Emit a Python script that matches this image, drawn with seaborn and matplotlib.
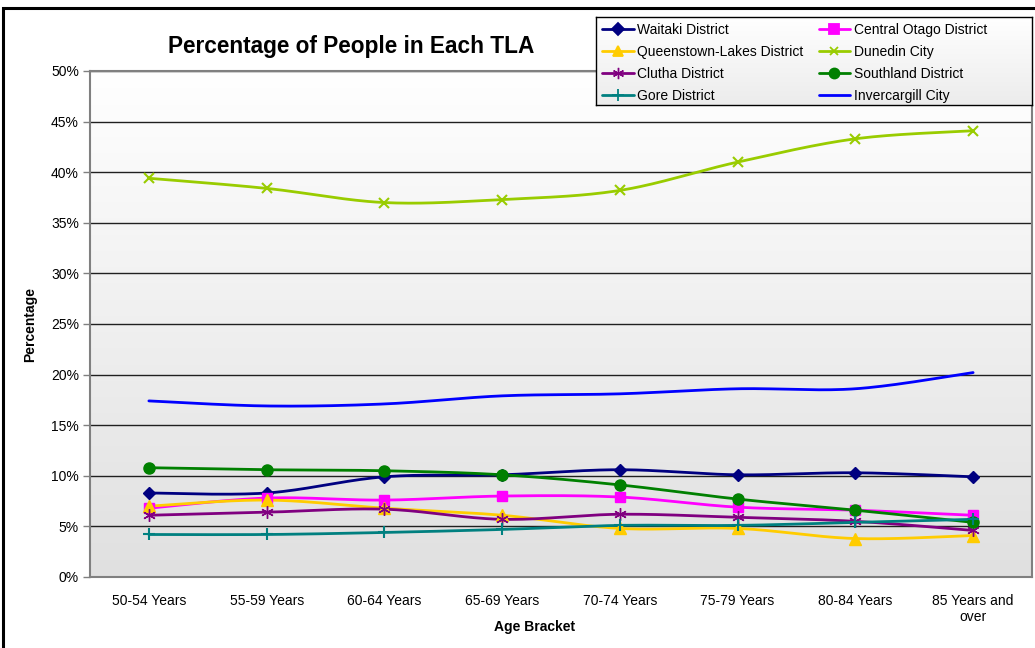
import numpy as np
import pandas as pd
import matplotlib
matplotlib.use("Agg")
import matplotlib.pyplot as plt
from matplotlib.lines import Line2D
from matplotlib.patches import Rectangle
import seaborn as sns

# ---- data -------------------------------------------------------------
age_brackets = ["50-54 Years", "55-59 Years", "60-64 Years", "65-69 Years",
                "70-74 Years", "75-79 Years", "80-84 Years", "85 Years and\nover"]

waitaki = [8.3, 8.3, 9.9, 10.1, 10.6, 10.1, 10.3, 9.9]
central_otago = [6.8, 7.8, 7.6, 8.0, 7.9, 6.9, 6.6, 6.1]
queenstown_lakes = [7.0, 7.6, 6.8, 6.1, 4.8, 4.8, 3.8, 4.1]
dunedin = [39.4, 38.4, 37.0, 37.3, 38.2, 41.0, 43.3, 44.1]
clutha = [6.1, 6.4, 6.7, 5.7, 6.2, 5.9, 5.5, 4.6]
southland = [10.8, 10.6, 10.5, 10.1, 9.1, 7.7, 6.6, 5.4]
gore = [4.2, 4.2, 4.4, 4.7, 5.1, 5.1, 5.4, 5.7]
invercargill = [17.4, 16.9, 17.1, 17.9, 18.1, 18.6, 18.6, 20.2]

series_names = ["Waitaki District", "Central Otago District", "Queenstown-Lakes District",
                "Dunedin City", "Clutha District", "Southland District",
                "Gore District", "Invercargill City"]
series_values = [waitaki, central_otago, queenstown_lakes, dunedin,
                 clutha, southland, gore, invercargill]

colors = {"Waitaki District": "#000080", "Central Otago District": "#FF00FF",
          "Queenstown-Lakes District": "#FFCC00", "Dunedin City": "#99CC00",
          "Clutha District": "#800080", "Southland District": "#008000",
          "Gore District": "#008080", "Invercargill City": "#0000FF"}
markers = {"Waitaki District": ("D", 6.5), "Central Otago District": ("s", 7.5),
           "Queenstown-Lakes District": ("^", 8), "Dunedin City": ("x", 7),
           "Clutha District": ((6, 2, 0), 9), "Southland District": ("o", 8),
           "Gore District": ("+", 9), "Invercargill City": (None, 0)}


def smooth(xs, ys, n=30):
    """Cubic Bezier smoothing through every point (Catmull-Rom style)."""
    xs = np.asarray(xs, float)
    ys = np.asarray(ys, float)
    px = np.concatenate([[xs[0]], xs, [xs[-1]]])
    py = np.concatenate([[ys[0]], ys, [ys[-1]]])
    out_x, out_y = [], []
    t = np.linspace(0, 1, n)
    for i in range(1, len(px) - 2):
        p0 = np.array([px[i], py[i]])
        p3 = np.array([px[i + 1], py[i + 1]])
        c1 = p0 + (np.array([px[i + 1], py[i + 1]]) - np.array([px[i - 1], py[i - 1]])) / 6
        c2 = p3 - (np.array([px[i + 2], py[i + 2]]) - np.array([px[i], py[i]])) / 6
        b = ((1 - t) ** 3)[:, None] * p0 + (3 * (1 - t) ** 2 * t)[:, None] * c1 \
            + (3 * (1 - t) * t ** 2)[:, None] * c2 + (t ** 3)[:, None] * p3
        out_x.extend(b[:, 0])
        out_y.extend(b[:, 1])
    return out_x, out_y


rows = []
for name, vals in zip(series_names, series_values):
    sx, sy = smooth(range(len(vals)), vals)
    for k, (a, b) in enumerate(zip(sx, sy)):
        rows.append({"series": name, "x": a, "y": b, "order": k})
curves = pd.DataFrame(rows)

# ---- figure -----------------------------------------------------------
sns.set_theme(style="white")
plt.rcParams["font.family"] = ["Liberation Sans", "DejaVu Sans"]
plt.rcParams["text.color"] = "black"
plt.rcParams["axes.labelcolor"] = "black"
plt.rcParams["xtick.labelcolor"] = "black"
plt.rcParams["ytick.labelcolor"] = "black"

W, H = 1035, 648
fig = plt.figure(figsize=(W / 100, H / 100), dpi=100)
fig.patch.set_facecolor("white")

left, right, top, bottom = 90, 1032, 71, 577
ax = fig.add_axes([left / W, 1 - bottom / H, (right - left) / W, (bottom - top) / H])

fade = matplotlib.colors.LinearSegmentedColormap.from_list("bg", ["#ffffff", "#e0e0e0"])
grad = np.linspace(0, 1, 256)[:, None]

# gradient plot-area fill
ax.imshow(grad, extent=[-0.5, 7.5, 0, 50], aspect="auto", origin="upper",
          cmap=fade, zorder=0)

ax.yaxis.grid(True, color="#202020", linewidth=1.0, zorder=1)
ax.set_axisbelow(True)

sns.lineplot(data=curves, x="x", y="y", hue="series", hue_order=series_names,
             palette=colors, sort=False, estimator=None, units="series",
             linewidth=2.0, legend=False, ax=ax, zorder=3)

for name, vals in zip(series_names, series_values):
    m, ms = markers[name]
    if m is None:
        continue
    filled = m in ("D", "s", "^", "o")
    mew = 1.0 if filled else (1.0 if name == "Clutha District" else 1.5)
    ax.plot(range(len(vals)), vals, linestyle="none", marker=m, markersize=ms,
            color=colors[name], markeredgewidth=mew, zorder=4)

ax.set_xlim(-0.5, 7.5)
ax.set_ylim(0, 50)
ax.set_yticks(np.arange(0, 51, 5))
ax.set_yticklabels([f"{v}%" for v in range(0, 51, 5)], fontsize=10)
ax.set_xticks(np.arange(-0.5, 7.6, 1))
ax.set_xticklabels([])
ax.set_xticks(range(8), minor=True)
ax.set_xticklabels(age_brackets, minor=True, fontsize=10)
ax.tick_params(axis="x", which="major", length=5, width=1, color="#808080", direction="out")
ax.tick_params(axis="x", which="minor", length=0, pad=12)
ax.tick_params(axis="y", length=5, width=1, color="#808080", direction="out", pad=3, left=True)
ax.set_xlabel("")
ax.set_ylabel("")
for s in ax.spines.values():
    s.set_color("#808080")
    s.set_linewidth(1.5)

fig.text(351 / W, 1 - 46 / H, "Percentage of People in Each TLA", ha="center", va="center",
         fontsize=16.3, fontweight="bold")
fig.text(535 / W, 1 - 627 / H, "Age Bracket", ha="center", va="center",
         fontsize=10, fontweight="bold")
fig.text(30 / W, 1 - 324 / H, "Percentage", ha="center", va="center", rotation=90,
         fontsize=10, fontweight="bold")

# legend box: gradient panel with black border
lx0, ly0, lx1, ly1 = 596, 17, 1032, 105
lax = fig.add_axes([lx0 / W, 1 - ly1 / H, (lx1 - lx0) / W, (ly1 - ly0) / H])
lax.imshow(grad, extent=[0, 1, 0, 1], aspect="auto", origin="upper",
           cmap=matplotlib.colors.LinearSegmentedColormap.from_list(
               "lg", ["#ffffff", "#ececec"]))
lax.set_xticks([])
lax.set_yticks([])
for s in lax.spines.values():
    s.set_color("black")
    s.set_linewidth(1.0)

# legend entries (row-major order in two columns)
handles = {}
for name in series_names:
    m, ms = markers[name]
    handles[name] = Line2D([], [], color=colors[name], linewidth=2.0,
                           marker=m if m is not None else None,
                           markersize=ms * 0.9,
                           markeredgewidth=1.0 if name == "Clutha District" else 1.3)
col_order = [0, 2, 4, 6, 1, 3, 5, 7]
leg = fig.legend([handles[series_names[i]] for i in col_order],
                 [series_names[i] for i in col_order],
                 ncol=2, loc="upper left", bbox_to_anchor=(lx0 / W, 1 - ly0 / H),
                 fontsize=10, frameon=False, handlelength=2.3,
                 handletextpad=0.25, columnspacing=1.1, labelspacing=0.58,
                 borderpad=0.4, borderaxespad=0)

# outer chart border
fig.patches.append(Rectangle((3 / W, -0.1), 1.2, 1 - 8 / H + 0.1, transform=fig.transFigure,
                             fill=False, edgecolor="black", linewidth=2.2, zorder=10))

fig.savefig("out.png", dpi=100)
